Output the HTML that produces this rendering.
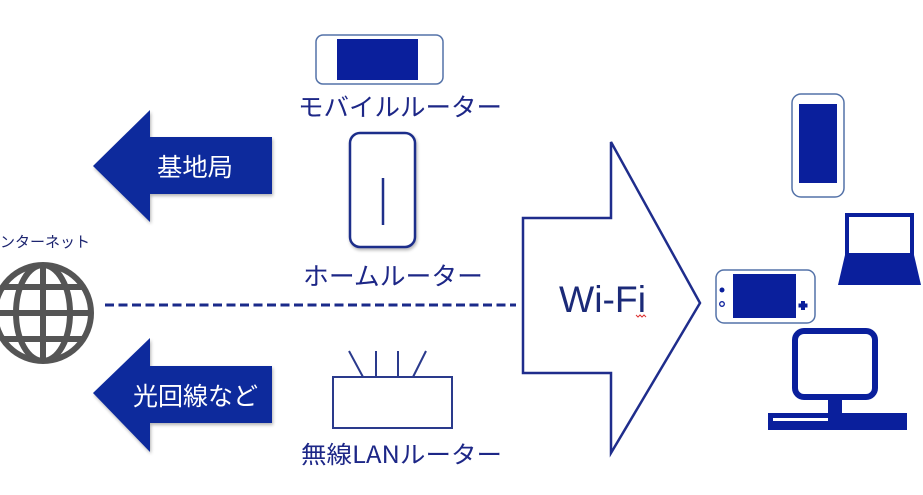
<!DOCTYPE html>
<html>
<head>
<meta charset="utf-8">
<style>
html,body{margin:0;padding:0;background:#fff;}
body{width:923px;height:495px;overflow:hidden;}
svg{display:block;}
text{font-family:"Liberation Sans","Noto Sans CJK JP",sans-serif;}
.jp{font-family:"Noto Sans CJK JP","Liberation Sans",sans-serif;}
</style>
</head>
<body>
<svg width="923" height="495" viewBox="0 0 923 495" xmlns="http://www.w3.org/2000/svg">
<defs>
  <filter id="sh" x="-10%" y="-10%" width="130%" height="130%">
    <feGaussianBlur in="SourceAlpha" stdDeviation="1.5"/>
    <feOffset dx="1" dy="2" result="b"/>
    <feComponentTransfer><feFuncA type="linear" slope="0.3"/></feComponentTransfer>
    <feMerge><feMergeNode/><feMergeNode in="SourceGraphic"/></feMerge>
  </filter>
  <clipPath id="gc"><circle cx="43" cy="313" r="48"/></clipPath>
</defs>

<!-- Left arrows -->
<polygon points="93,166 150,110 150,137 272,137 272,194 150,194 150,222" fill="#0b2a9c" filter="url(#sh)"/>
<text x="157" y="176" class="jp" font-size="25" fill="#fff" textLength="76" lengthAdjust="spacingAndGlyphs">基地局</text>

<polygon points="93,393 150,338 150,366 272,366 272,423 150,423 150,452" fill="#0b2a9c" filter="url(#sh)"/>
<text x="133" y="405" class="jp" font-size="25" fill="#fff" textLength="125" lengthAdjust="spacingAndGlyphs">光回線など</text>

<!-- Internet label and globe -->
<text x="-15" y="247" class="jp" font-size="15" fill="#1d2570" textLength="105" lengthAdjust="spacingAndGlyphs">インターネット</text>
<g stroke="#555" stroke-width="6" fill="none">
  <circle cx="43" cy="313" r="48"/>
  <g clip-path="url(#gc)">
    <ellipse cx="43" cy="313" rx="27" ry="48"/>
    <line x1="43" y1="260" x2="43" y2="366"/>
    <line x1="-10" y1="287" x2="100" y2="287"/>
    <line x1="-10" y1="313" x2="100" y2="313"/>
    <line x1="-10" y1="339" x2="100" y2="339"/>
  </g>
</g>

<!-- Dashed line -->
<line x1="105" y1="305" x2="516" y2="305" stroke="#1a2a8a" stroke-width="3" stroke-dasharray="9,4.5"/>

<!-- Mobile router -->
<rect x="316" y="35" width="127" height="49" rx="7" fill="#fff" stroke="#5472a8" stroke-width="1.5"/>
<rect x="337" y="39" width="81" height="41" fill="#0a1f9c"/>
<text x="298" y="116" class="jp" font-size="25" fill="#1d2787" textLength="204" lengthAdjust="spacingAndGlyphs">モバイルルーター</text>

<!-- Home router -->
<rect x="350" y="133" width="65" height="114" rx="10" fill="#fff" stroke="#1f2f8a" stroke-width="2.5" filter="url(#sh)"/>
<line x1="383" y1="178" x2="383" y2="225" stroke="#1f2f8a" stroke-width="2.5"/>
<text x="303" y="285" class="jp" font-size="25" fill="#1d2787" textLength="180" lengthAdjust="spacingAndGlyphs">ホームルーター</text>

<!-- Wireless LAN router -->
<g stroke="#2a3a8c" stroke-width="2" fill="none">
  <line x1="349" y1="351" x2="363" y2="377"/>
  <line x1="376" y1="351" x2="376" y2="377"/>
  <line x1="398" y1="351" x2="398" y2="377"/>
  <line x1="426" y1="351" x2="413" y2="377"/>
  <rect x="333" y="377" width="119" height="51" fill="#fff"/>
</g>
<text x="301" y="463" class="jp" font-size="24" fill="#1d2787" textLength="201" lengthAdjust="spacingAndGlyphs">無線LANルーター</text>

<!-- Wi-Fi arrow -->
<polygon points="523,218 611,218 611,142 700,303 611,453 611,373 523,373" fill="#fff" stroke="#1f2d8c" stroke-width="2.5" stroke-linejoin="miter"/>
<text x="559" y="312" font-size="37" fill="#1b2a78" textLength="87" lengthAdjust="spacingAndGlyphs">Wi-Fi</text>
<path d="M636,315 l2,2 l2,-2 l2,2 l2,-2 l2,2" stroke="#d33" stroke-width="1" fill="none"/>

<!-- Phone -->
<rect x="792" y="94" width="52" height="103" rx="9" fill="#fff" stroke="#5472a8" stroke-width="1.5"/>
<rect x="799" y="104" width="38" height="79" fill="#0a1f9c"/>

<!-- Laptop -->
<rect x="847" y="215" width="65" height="40" fill="#fff" stroke="#0a1f9c" stroke-width="4"/>
<polygon points="845,255 914,255 921,285 838,285" fill="#0a1f9c"/>

<!-- Game console -->
<rect x="716" y="270" width="99" height="53" rx="8" fill="#fff" stroke="#5472a8" stroke-width="1.5"/>
<rect x="733" y="274" width="63" height="44" fill="#0a1f9c"/>
<circle cx="722" cy="290" r="2.5" fill="#0a1f9c"/>
<circle cx="722" cy="304" r="2.3" fill="#fff" stroke="#0a1f9c" stroke-width="1.3"/>
<rect x="801" y="301" width="4" height="9" fill="#0a1f9c"/>
<rect x="798.5" y="303.5" width="9" height="4" fill="#0a1f9c"/>

<!-- Desktop -->
<rect x="795" y="331" width="80" height="66" rx="9" fill="#fff" stroke="#0a1f9c" stroke-width="6"/>
<rect x="828" y="397" width="14" height="17" fill="#0a1f9c"/>
<rect x="768" y="413" width="139" height="17" fill="#0a1f9c"/>
<rect x="773" y="418" width="55" height="3" fill="#fff"/>
</svg>
</body>
</html>
